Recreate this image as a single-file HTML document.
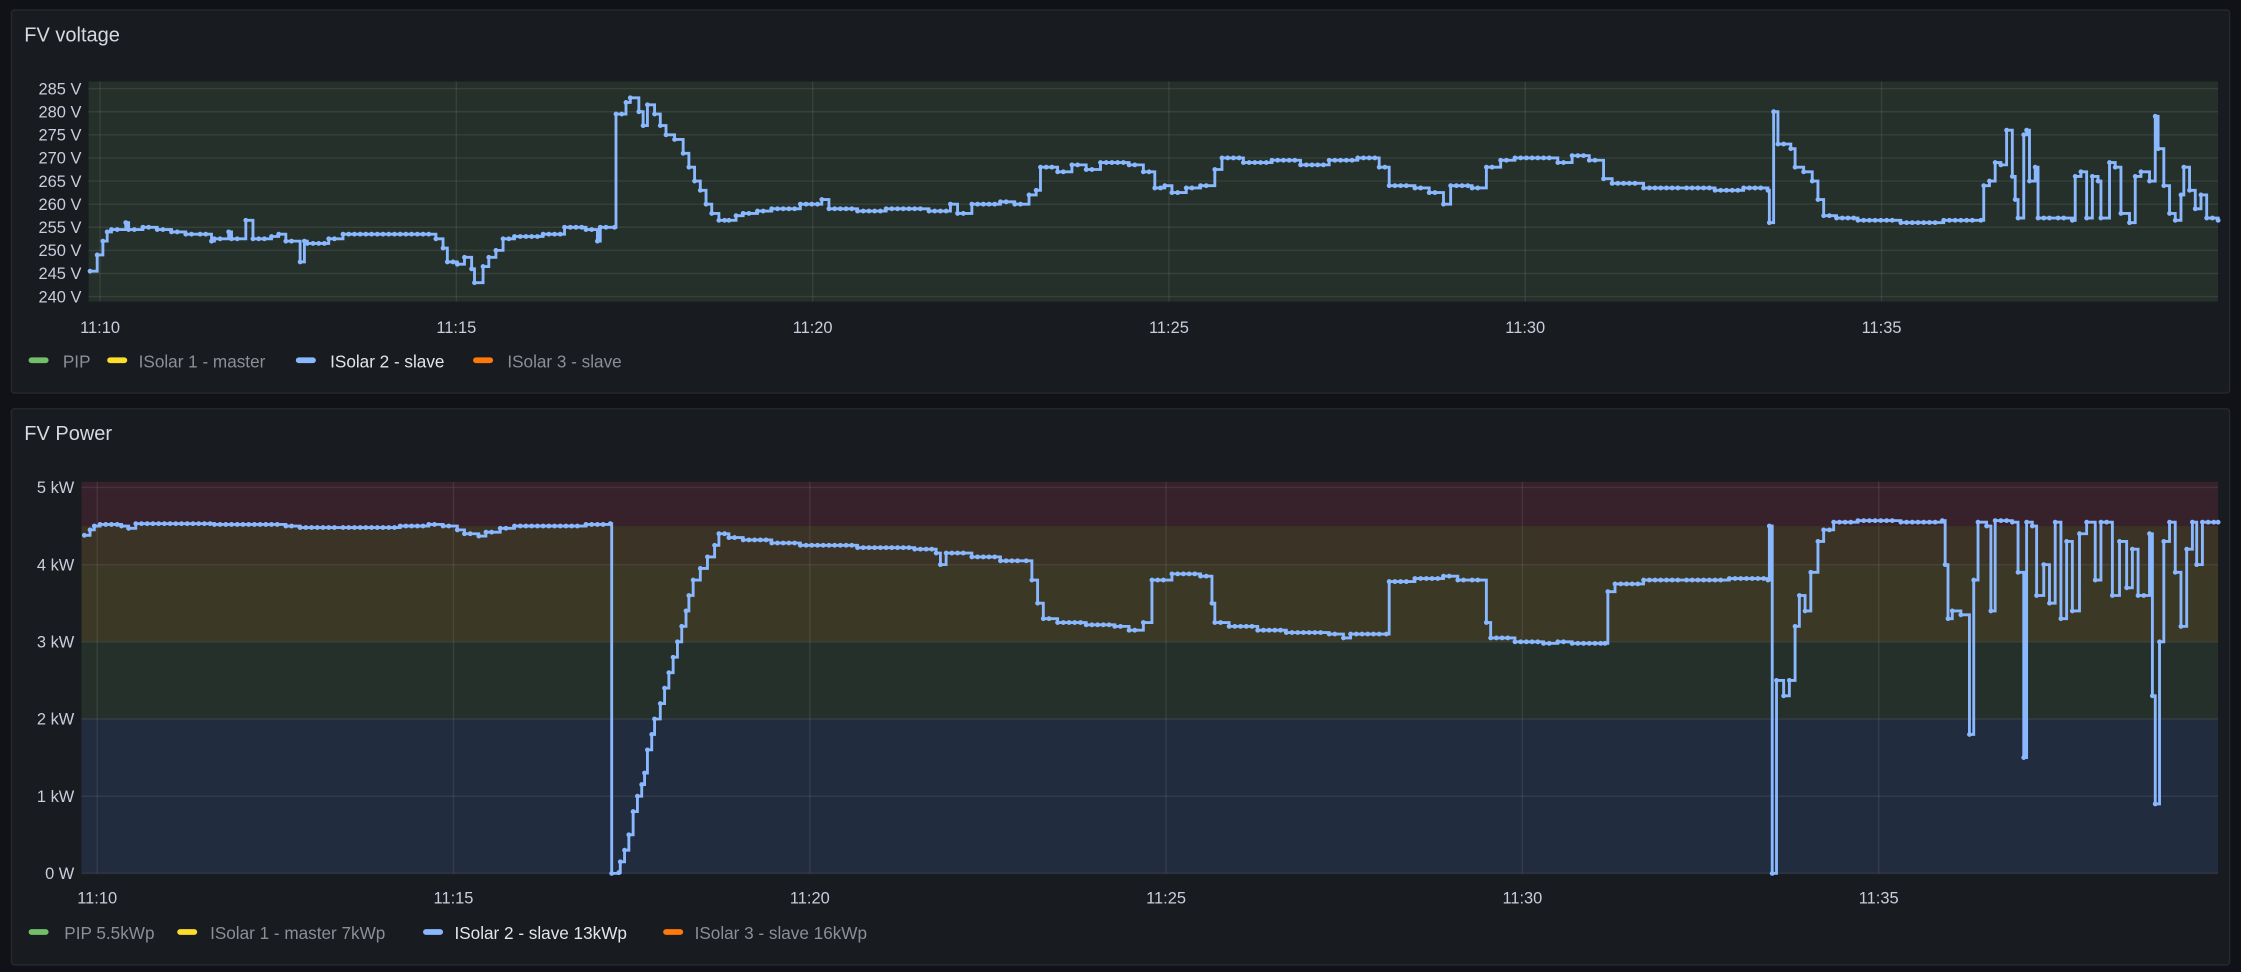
<!DOCTYPE html>
<html><head><meta charset="utf-8"><style>
html,body{margin:0;padding:0;background:#111217;}
svg{display:block;font-family:"Liberation Sans",sans-serif;}
</style></head><body>
<svg id="s" width="2241" height="972" viewBox="0 0 1568 680" preserveAspectRatio="none" xmlns="http://www.w3.org/2000/svg">
<rect x="0" y="0" width="1568" height="680" fill="#111217"/>
<rect x="8" y="7" width="1552" height="268" rx="2" fill="#181b1f" stroke="#25282d"/>
<rect x="8" y="286" width="1552" height="389" rx="2" fill="#181b1f" stroke="#25282d"/>
<text x="17" y="29" fill="#d8d9e0" font-size="14" font-weight="500">FV voltage</text>
<text x="17" y="308" fill="#d8d9e0" font-size="14" font-weight="500">FV Power</text>
<rect x="62" y="57" width="1490" height="154" fill="#26302a"/>
<rect x="57" y="337" width="1495" height="31" fill="#37222b"/>
<rect x="57" y="368" width="1495" height="27" fill="#3a3326"/>
<rect x="57" y="395" width="1495" height="54" fill="#3b3826"/>
<rect x="57" y="449" width="1495" height="54" fill="#26302b"/>
<rect x="57" y="503" width="1495" height="108" fill="#222c3f"/>
<g id="grid" stroke="rgba(204,204,220,0.10)" stroke-width="1"></g>
<g id="labels" fill="#ccccdc" font-size="11.5"></g>
<g id="series"></g>
<g font-size="12">
<rect x="20" y="250" width="14" height="4" rx="2" fill="#73bf69"/><text x="44" y="257" fill="#8e8e96">PIP</text>
<rect x="75" y="250" width="14" height="4" rx="2" fill="#fade2a"/><text x="97" y="257" fill="#8e8e96">ISolar 1 - master</text>
<rect x="207" y="250" width="14" height="4" rx="2" fill="#8ab8ff"/><text x="231" y="257" fill="#e6e6ea">ISolar 2 - slave</text>
<rect x="331" y="250" width="14" height="4" rx="2" fill="#ff780a"/><text x="355" y="257" fill="#8e8e96">ISolar 3 - slave</text>
<rect x="20" y="650" width="14" height="4" rx="2" fill="#73bf69"/><text x="45" y="657" fill="#8e8e96">PIP 5.5kWp</text>
<rect x="124" y="650" width="14" height="4" rx="2" fill="#fade2a"/><text x="147" y="657" fill="#8e8e96">ISolar 1 - master 7kWp</text>
<rect x="296" y="650" width="14" height="4" rx="2" fill="#8ab8ff"/><text x="318" y="657" fill="#e6e6ea">ISolar 2 - slave 13kWp</text>
<rect x="464" y="650" width="14" height="4" rx="2" fill="#ff780a"/><text x="486" y="657" fill="#8e8e96">ISolar 3 - slave 16kWp</text>
</g>
</svg>
<script>
var NS="http://www.w3.org/2000/svg";
function el(p,t,a,txt){var e=document.createElementNS(NS,t);for(var k in a)e.setAttribute(k,a[k]);if(txt)e.textContent=txt;document.getElementById(p).appendChild(e);return e;}
var times=["11:10","11:15","11:20","11:25","11:30","11:35"];
for(var i=0;i<6;i++){var x=70+i*249.3;
 el("grid","line",{x1:x,x2:x,y1:57,y2:211});el("grid","line",{x1:x-2,x2:x-2,y1:337,y2:611});
 el("labels","text",{x:x,y:233,"text-anchor":"middle"},times[i]);
 el("labels","text",{x:x-2,y:632,"text-anchor":"middle"},times[i]);}
function vy(v){return 62+(285-v)*3.233;}
for(var v=240;v<=285;v+=5){var y=vy(v);el("grid","line",{x1:62,x2:1552,y1:y,y2:y});el("labels","text",{x:57,y:y+4,"text-anchor":"end"},v+" V");}
function py(k){return 611-k*54;}
for(var k=0;k<=5;k++){var y=py(k);el("grid","line",{x1:57,x2:1552,y1:y,y2:y});el("labels","text",{x:52,y:y+4,"text-anchor":"end"},k==0?"0 W":k+" kW");}
var V=[63,245.5,68,249,72,252,75,254,78,254.5,88,256,90,254.5,100,255,110,254.5,120,254,130,253.5,140,253.5,148,252,150,252.5,160,254,162,252.5,172,256.5,177,252.5,190,253,195,253.5,200,252,210,247.5,213,252,215,251.5,230,252.5,240,253.5,260,253.5,280,253.5,300,253.5,305,252.5,310,250.5,313,247.5,320,247,325,248.5,330,246,332,243,338,246.5,342,248.5,347,250,352,252.5,360,253,380,253.5,395,255,410,254.5,418,252,420,255,430,255,431,279.5,438,282,441,283,447,280,450,277,453,281.5,458,279.5,462,277,466,275,472,274,478,271,482,268,486,265,490,263,494,260,498,258,503,256.5,510,256.5,515,257.5,520,258,530,258.5,540,259,560,260,575,261,580,259,600,258.5,620,259,650,258.5,665,260,670,258,680,260,700,260.5,710,260,720,262,725,263,728,268,740,267,750,268.5,760,267.5,770,269,790,268.5,800,267,808,263.5,815,264,820,262.5,830,263.5,840,264,850,267.5,855,270,870,269,890,269.5,910,268.5,930,269.5,950,270,965,268,972,264,990,263.5,1000,262.5,1010,260,1015,264,1030,263.5,1040,268,1050,269.5,1060,270,1080,270,1090,269,1100,270.5,1112,269.5,1122,265.5,1128,264.5,1140,264.5,1150,263.5,1180,263.5,1200,263,1220,263.5,1237,263,1238,256,1241,280,1244,273,1253,272,1256,268,1262,267,1268,265,1272,261,1276,257.5,1285,257,1300,256.5,1330,256,1360,256.5,1386,256.5,1388,264,1392,265,1396,269,1400,268.5,1404,276,1408,266,1410,261,1412,257,1416,275,1418,276,1420,265,1424,268,1426,257,1440,257,1450,256.5,1452,266,1456,267,1460,257,1464,266,1468,265,1470,257,1476,269,1480,268,1484,258,1490,256,1494,266,1498,267,1504,265,1508,279,1510,272,1514,264,1518,258,1522,256.5,1526,262,1528,268,1532,263,1536,259,1540,262,1544,257,1552,256.5];
var P=[59,4.38,63,4.45,66,4.5,70,4.52,85,4.5,90,4.47,95,4.53,150,4.52,200,4.5,210,4.48,240,4.48,280,4.5,300,4.52,310,4.5,320,4.45,325,4.4,335,4.37,340,4.42,350,4.47,360,4.5,400,4.5,410,4.52,427,4.53,428,0,433,0.01,434,0.15,437,0.3,440,0.5,443,0.8,446,1.0,449,1.15,451,1.3,453,1.6,456,1.8,458,2.0,462,2.2,465,2.4,468,2.6,471,2.8,474,3.0,477,3.2,480,3.4,482,3.6,485,3.8,490,3.95,495,4.1,500,4.25,503,4.4,510,4.35,520,4.32,540,4.28,560,4.25,600,4.22,640,4.2,655,4.15,658,4.0,662,4.15,680,4.1,700,4.05,718,4.05,722,3.8,726,3.5,730,3.3,740,3.25,760,3.22,780,3.2,790,3.15,800,3.25,806,3.8,820,3.88,840,3.85,848,3.5,850,3.25,860,3.2,880,3.15,900,3.12,930,3.1,940,3.05,945,3.1,970,3.1,972,3.78,990,3.82,1010,3.85,1020,3.8,1030,3.8,1040,3.25,1043,3.05,1060,3.0,1080,2.98,1090,3.0,1100,2.98,1123,2.98,1125,3.65,1130,3.75,1150,3.8,1180,3.8,1210,3.82,1237,3.8,1238,4.5,1240,0,1243,2.5,1248,2.3,1252,2.5,1256,3.2,1259,3.6,1263,3.4,1267,3.9,1272,4.3,1276,4.45,1283,4.55,1300,4.57,1330,4.55,1359,4.57,1361,4.0,1363,3.3,1366,3.4,1372,3.35,1378,1.8,1381,3.8,1384,4.55,1390,4.5,1393,3.4,1396,4.57,1408,4.55,1412,3.9,1416,1.5,1418,4.55,1422,4.5,1425,3.6,1430,4.0,1434,3.5,1438,4.55,1442,3.3,1446,4.3,1450,3.4,1455,4.4,1460,4.55,1466,3.8,1470,4.55,1478,3.6,1483,4.3,1488,3.7,1492,4.2,1496,3.6,1500,3.6,1504,4.4,1506,2.3,1508,0.9,1511,3.0,1514,4.3,1518,4.55,1522,3.9,1526,3.2,1530,4.2,1534,4.55,1537,4.0,1541,4.55,1552,4.55];
function draw(A,f,xmin){
 var d="",dots=[];
 for(var i=0;i<A.length;i+=2){var x=Math.max(A[i],xmin),y=f(A[i+1]);
  if(i==0)d+="M"+x+" "+y;else d+="H"+x+"V"+y;
  dots.push([x,y]);
  if(i+2<A.length){var nx=A[i+2];for(var t=x+4;t<nx-2;t+=4)dots.push([t,y]);}}
 el("series","path",{d:d,fill:"none",stroke:"#8ab8ff","stroke-width":"2"});
 var r=1.7,c="";dots.forEach(function(p){c+="M"+(p[0]-r)+" "+p[1]+"a"+r+" "+r+" 0 1 0 "+(2*r)+" 0a"+r+" "+r+" 0 1 0 "+(-2*r)+" 0";});
 el("series","path",{d:c,fill:"#8ab8ff"});
}
draw(V,vy,62);draw(P,py,57);
</script>
</body></html>
